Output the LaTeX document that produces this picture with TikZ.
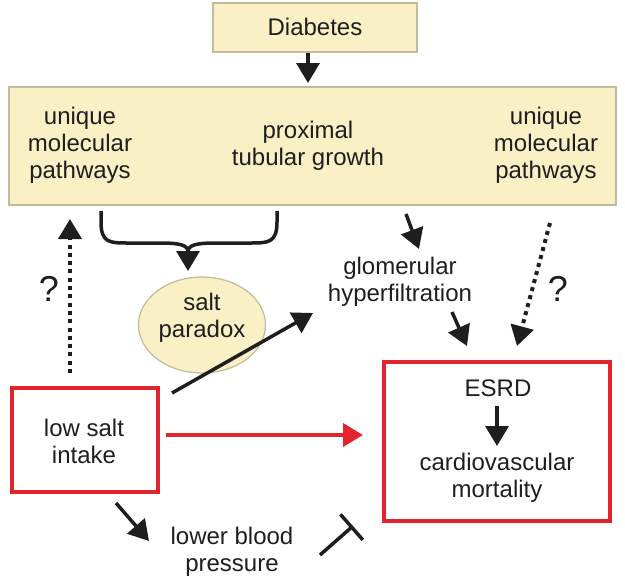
\documentclass[tikz,border=0pt]{standalone}
\usepackage{fontspec}
\setmainfont{Liberation Sans}
\usetikzlibrary{arrows.meta,shapes.geometric}
\definecolor{boxfill}{HTML}{F9F0C6}
\definecolor{boxline}{HTML}{C2BA9C}
\definecolor{redline}{HTML}{E3242E}
\definecolor{ink}{HTML}{1E1E1E}
\tikzset{
  txt/.style={align=center,inner sep=0pt,text=ink,font=\fontsize{24}{27}\selectfont},
  qtxt/.style={inner sep=0pt,text=ink,font=\fontsize{36}{40}\selectfont},
  ybox/.style={draw=boxline,fill=boxfill,line width=1.2pt,inner sep=0pt},
  rbox/.style={draw=redline,line width=4pt,inner sep=0pt},
  arr/.style={draw=ink,line width=3.5pt,-{Triangle[width=23pt,length=20pt]}},
  rarr/.style={draw=redline,line width=4pt,-{Triangle[width=23pt,length=20pt]}},
  dotarr/.style={draw=ink,line width=4pt,dash pattern=on 4pt off 4.3pt,-{Triangle[width=23pt,length=20pt]}},
}
\begin{document}
\begin{tikzpicture}[x=1pt,y=-1pt]
\useasboundingbox (0,0) rectangle (625,584);
% boxes
\node[ybox,minimum width=204pt,minimum height=49pt] (diab) at (315,27.5) {};
\node[txt] (diabt) at (315,27) {Diabetes};
\node[ybox,minimum width=607pt,minimum height=118pt] (big) at (312.5,146) {};
\node[txt] (uml) at (80,145) {unique\\molecular\\pathways};
\node[txt] (ptg) at (308,146) {proximal\\tubular growth};
\node[txt] (umr) at (546,145) {unique\\molecular\\pathways};
\node[ybox,ellipse,minimum width=127pt,minimum height=96pt] (sp) at (202,325) {};
\node[txt] (spt) at (202,318) {salt\\paradox};
\node[txt] (glo) at (400,282) {glomerular\\hyperfiltration};
\node[rbox,minimum width=146pt,minimum height=104pt] (low) at (85,440) {};
\node[txt] (lowt) at (84,441) {low salt\\intake};
\node[rbox,minimum width=226pt,minimum height=159pt] (esrd) at (497,441.5) {};
\node[txt] (esrdt) at (498,388) {ESRD};
\node[txt] (cvm) at (497,478) {cardiovascular\\mortality};
\node[txt] (lbp) at (232,552) {lower blood\\pressure};
\node[qtxt] (q1) at (49,289) {?};
\node[qtxt] (q2) at (558,289) {?};
% coordinates
\coordinate (d1) at (308,53);
\coordinate (d2) at (308,83);
\coordinate (bL) at (101,211);
\coordinate (bR) at (277,211);
\coordinate (bM) at (188,252);
\coordinate (bT) at (188,271);
\coordinate (l1) at (70,373);
\coordinate (l2) at (70,219);
\coordinate (g1) at (406,214);
\coordinate (g2) at (419,249);
\coordinate (g3) at (452,312);
\coordinate (g4) at (467,346);
\coordinate (r1) at (550,223);
\coordinate (r2) at (517,346);
\coordinate (s1) at (172,393);
\coordinate (s2) at (313,313);
\coordinate (h1) at (166,435);
\coordinate (h2) at (363,435);
\coordinate (p1) at (116,503);
\coordinate (p2) at (149,541);
\coordinate (i1) at (320,555);
\coordinate (i2) at (353,526);
\coordinate (e1) at (497,406);
\coordinate (e2) at (497,446);
% connectors
\draw[arr] (d1) -- (d2);
\draw[draw=ink,line width=3.5pt,line join=round]
  (bL) -- (101,222) .. controls (101,243) and (110,243) .. (128,243) -- (160,243)
  .. controls (180,243) and (188,245) .. (bM);
\draw[draw=ink,line width=3.5pt,line join=round]
  (bR) -- (277,222) .. controls (277,243) and (268,243) .. (250,243) -- (216,243)
  .. controls (196,243) and (188,245) .. (bM);
\draw[arr] (bM) -- (bT);
\draw[dotarr] (l1) -- (l2);
\draw[arr] (g1) -- (g2);
\draw[arr] (g3) -- (g4);
\draw[dotarr] (r1) -- (r2);
\draw[arr] (s1) -- (s2);
\draw[rarr] (h1) -- (h2);
\draw[arr] (p1) -- (p2);
\draw[draw=ink,line width=3.5pt,-{Bar[width=34pt]}] (i1) -- (i2);
\draw[arr] (e1) -- (e2);
\end{tikzpicture}
\end{document}
